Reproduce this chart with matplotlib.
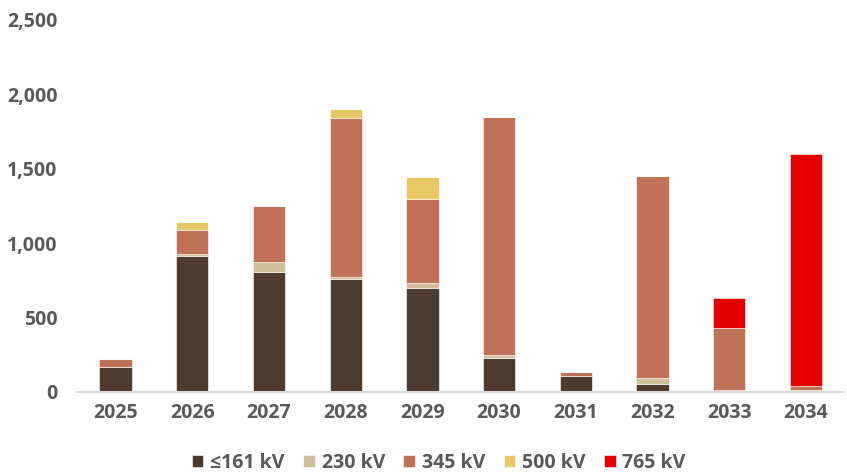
import numpy as np
import matplotlib.pyplot as plt

plt.rcParams['font.family'] = ['Open Sans', 'DejaVu Sans']

years = ['2025', '2026', '2027', '2028', '2029', '2030', '2031', '2032', '2033', '2034']
kv161 = [165, 915, 805, 762, 700, 230, 110, 55, 8, 8]
kv230 = [5, 10, 70, 14, 30, 16, 0, 40, 2, 2]
kv345 = [52, 165, 375, 1068, 567, 1600, 25, 1355, 422, 30]
kv500 = [0, 55, 0, 58, 148, 0, 0, 0, 0, 0]
kv765 = [0, 0, 0, 0, 0, 0, 0, 0, 198, 1560]

series = [
    ('≤161 kV', kv161, '#4E3B30'),
    ('230 kV', kv230, '#D1BE9C'),
    ('345 kV', kv345, '#C07257'),
    ('500 kV', kv500, '#E8C766'),
    ('765 kV', kv765, '#E60000'),
]

fig = plt.figure(figsize=(8.47, 4.76), dpi=100)
ax = fig.add_axes([0.091, 0.1765, 0.906, 0.7815])

x = np.arange(len(years))
bottom = np.zeros(len(years))
for name, vals, col in series:
    ax.bar(x, vals, width=0.42, bottom=bottom, color=col, label=name,
           edgecolor='white', linewidth=0.4)
    bottom += np.array(vals)

txt = '#595959'
ax.set_xlim(-0.5, len(years) - 0.5)
ax.set_ylim(0, 2500)
ax.set_yticks([0, 500, 1000, 1500, 2000, 2500])
ax.set_yticklabels(['0', '500', '1,000', '1,500', '2,000', '2,500'])
ax.set_xticks(x)
ax.set_xticklabels(years)
ax.tick_params(length=0, labelsize=14, colors=txt)
ax.tick_params(axis='y', pad=14)
ax.tick_params(axis='x', pad=8)
for lab in ax.get_xticklabels() + ax.get_yticklabels():
    lab.set_fontweight('bold')

for s in ['top', 'right', 'left']:
    ax.spines[s].set_visible(False)
ax.spines['bottom'].set_color('#D9D9D9')
ax.spines['bottom'].set_linewidth(1.5)

leg = fig.legend(loc='center', bbox_to_anchor=(0.518, 0.028), ncol=5, frameon=False,
                 handlelength=0.6, handleheight=0.6, handletextpad=0.35, columnspacing=0.95,
                 prop={'size': 14, 'weight': 'bold'})
for t in leg.get_texts():
    t.set_color(txt)

plt.savefig('out.png', dpi=100)
